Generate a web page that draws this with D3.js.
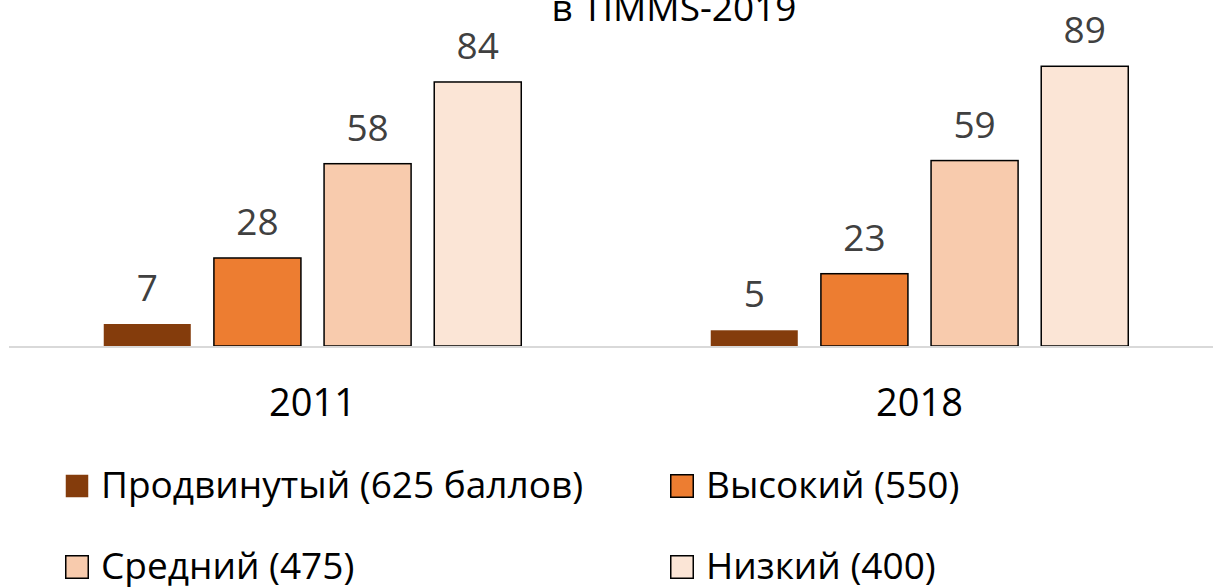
<!DOCTYPE html>
<html><head><meta charset="utf-8">
<script src="https://cdn.jsdelivr.net/npm/d3@7"></script>
<style>body{margin:0;background:#fff}svg{display:block}text{font-family:"Open Sans",sans-serif}</style>
</head><body>
<svg id="c" width="1213" height="587"></svg>
<script>
const categories = ["2011", "2018"];
const seriesNames = ["Продвинутый (625 баллов)", "Высокий (550)", "Средний (475)", "Низкий (400)"];
const advanced = [7, 5];
const high = [28, 23];
const medium = [58, 59];
const low = [84, 89];
const colors = ["#843C0C", "#ED7D31", "#F8CBAD", "#FBE5D6"];
const titleLine = "в TIMMS-2019";

const seriesValues = [advanced, high, medium, low];
const svg = d3.select("#c");

const x0 = d3.scaleBand().domain(categories).range([9, 1223]).padding(0);
const x1 = d3.scaleBand().domain(seriesNames).range([0, x0.bandwidth()]).paddingInner(0.21).paddingOuter(0.86);
const y = d3.scaleLinear().domain([0, 100]).range([346, 31.7]);

// title (partially cropped at top, as in the reference)
svg.append("text").attr("x", 674).attr("y", 21).attr("text-anchor", "middle")
  .attr("font-size", 37).attr("fill", "#000").text(titleLine);

const data = [];
categories.forEach((c, ci) => seriesNames.forEach((s, si) => data.push({c, s, si, v: seriesValues[si][ci]})));

svg.selectAll("rect.bar").data(data).enter().append("rect")
  .attr("class", "bar")
  .attr("x", d => x0(d.c) + x1(d.s))
  .attr("y", d => y(d.v))
  .attr("width", x1.bandwidth())
  .attr("height", d => y(0) - y(d.v))
  .attr("fill", d => colors[d.si])
  .attr("stroke", d => d.si === 0 ? "none" : "#000")
  .attr("stroke-width", 1.5);

// baseline
svg.append("line").attr("x1", 9).attr("x2", 1213).attr("y1", y(0) + 1).attr("y2", y(0) + 1)
  .attr("stroke", "#D9D9D9").attr("stroke-width", 2);

svg.selectAll("text.val").data(data).enter().append("text")
  .attr("class", "val")
  .attr("x", d => x0(d.c) + x1(d.s) + x1.bandwidth() / 2)
  .attr("y", d => y(d.v) - 23)
  .attr("text-anchor", "middle").attr("font-size", 37).attr("fill", "#404040")
  .text(d => d.v);

// category axis labels
const xAxis = d3.axisBottom(x0).tickSize(0).tickPadding(0);
const ax = svg.append("g").attr("transform", "translate(0,416)").call(xAxis);
ax.select(".domain").remove();
ax.selectAll("text").attr("font-size", 38).attr("fill", "#000").attr("dy", 0)
  .style("font-family", '"Open Sans",sans-serif');

// legend
const legPos = [[65, 498], [670, 498], [65, 579], [670, 579]];
seriesNames.forEach((s, i) => {
  const g = svg.append("g").attr("transform", `translate(${legPos[i][0]},${legPos[i][1]})`);
  g.append("rect").attr("x", 0.75).attr("y", -23.25).attr("width", 22.5).attr("height", 22.5)
    .attr("fill", colors[i]).attr("stroke", i === 0 ? "none" : "#000").attr("stroke-width", 1.5);
  g.append("text").attr("x", 36).attr("y", 0).attr("font-size", 37).attr("fill", "#000").text(s);
});
</script>
</body></html>
